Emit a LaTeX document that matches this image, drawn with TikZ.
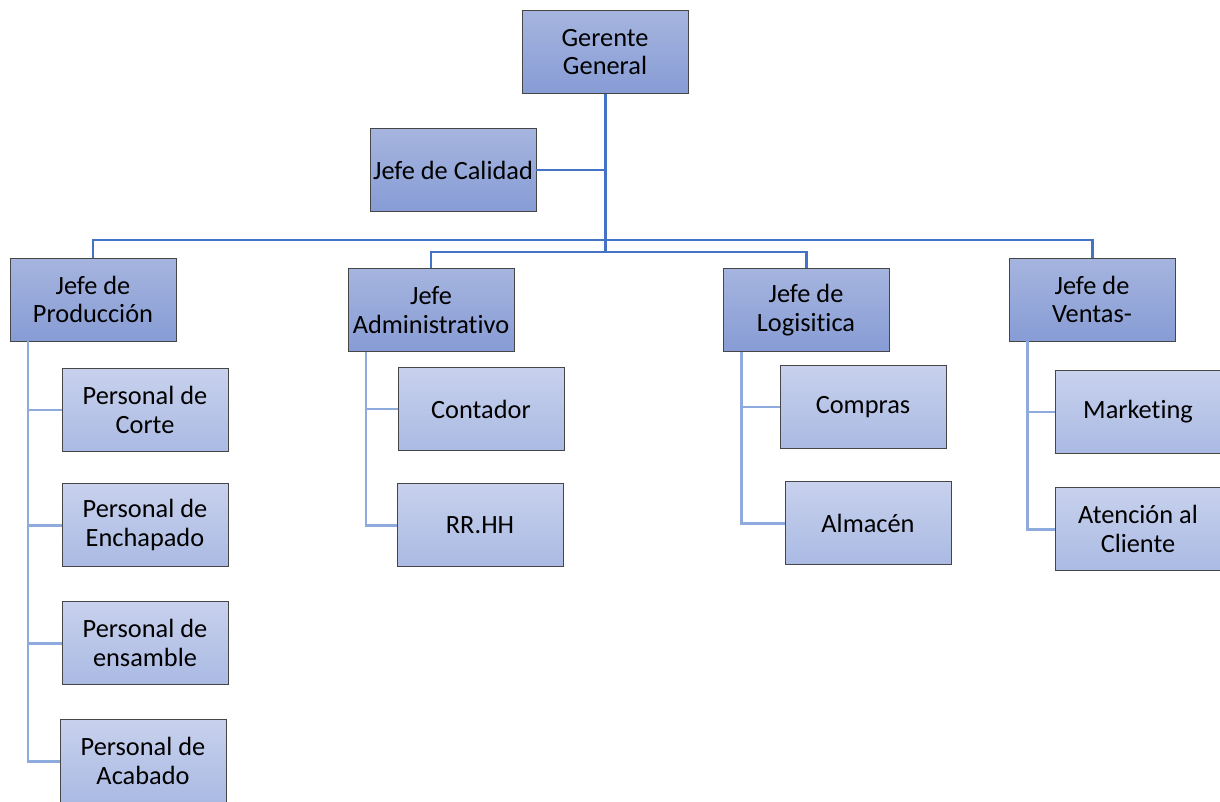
\documentclass[tikz,border=0pt]{standalone}
\usepackage{fontspec}
\setmainfont{Carlito}[Ligatures=NoCommon]
\usetikzlibrary{positioning}

\definecolor{lineblue}{RGB}{68,114,196}
\definecolor{sublineblue}{RGB}{143,170,220}
\definecolor{boxtop}{RGB}{166,181,223}
\definecolor{boxbottom}{RGB}{135,156,213}
\definecolor{subtop}{RGB}{200,209,237}
\definecolor{subbottom}{RGB}{170,186,227}
\definecolor{boxborder}{RGB}{70,70,70}

\begin{document}
\begin{tikzpicture}[x=0.02cm,y=-0.02cm,
	font=\fontsize{15}{16.4}\selectfont,
	box/.style={rectangle,draw=boxborder,line width=0.5pt,minimum width=3.32cm,
		minimum height=1.66cm,inner sep=0pt,align=center},
	main node/.style={box,top color=boxtop,bottom color=boxbottom},
	sub node/.style={box,top color=subtop,bottom color=subbottom},
	main line/.style={draw=lineblue,line width=1.7pt},
	sub line/.style={draw=sublineblue,line width=1.7pt}]
	
	\useasboundingbox (0,0) rectangle (1220,801);
	
	% upper levels
	\node[main node] (gerente) at (605,52) {Gerente\\General};
	\node[main node] (calidad) at (453,170) {Jefe de Calidad};
	\node[main node] (prod) at (93,299.5) {Jefe de\\Producción};
	\node[main node] (admin) at (431,310) {Jefe\\Administrativo};
	\node[main node] (logis) at (806,310) {Jefe de\\Logisitica};
	\node[main node] (ventas) at (1092,299.5) {Jefe de\\Ventas-};
	
	% staff
	\node[sub node] (corte) at (145,410) {Personal de\\Corte};
	\node[sub node] (enchap) at (145,525) {Personal de\\Enchapado};
	\node[sub node] (ensam) at (145,643) {Personal de\\ensamble};
	\node[sub node] (acab) at (143,761) {Personal de\\Acabado};
	\node[sub node] (conta) at (481,409) {Contador};
	\node[sub node] (rrhh) at (480,525) {RR.HH};
	\node[sub node] (compras) at (863,407) {Compras};
	\node[sub node] (almacen) at (868,523) {Almacén};
	\node[sub node] (market) at (1138,412) {Marketing};
	\node[sub node] (atencion) at (1138,529) {Atención al\\Cliente};
	
	\coordinate (bus a) at (605,240);
	\coordinate (bus b) at (605,252);
	
	\draw[main line] (gerente.south) -- (bus b);
	\draw[main line] (calidad.east) -- (calidad.east -| gerente.south);
	\draw[main line] (prod.north) |- (ventas.north |- bus a) -- (ventas.north);
	\draw[main line] (admin.north) |- (logis.north |- bus b) -- (logis.north);
	
	\coordinate (p) at (28,341);
	\coordinate (a) at (366,352);
	\coordinate (l) at (741,352);
	\coordinate (v) at (1027,341);
	
	\draw[sub line] (p) |- (acab.west);
	\draw[sub line] (p |- corte.west) -- (corte.west);
	\draw[sub line] (p |- enchap.west) -- (enchap.west);
	\draw[sub line] (p |- ensam.west) -- (ensam.west);
	\draw[sub line] (a) |- (rrhh.west);
	\draw[sub line] (a |- conta.west) -- (conta.west);
	\draw[sub line] (l) |- (almacen.west);
	\draw[sub line] (l |- compras.west) -- (compras.west);
	\draw[sub line] (v) |- (atencion.west);
	\draw[sub line] (v |- market.west) -- (market.west);
\end{tikzpicture}
\end{document}
